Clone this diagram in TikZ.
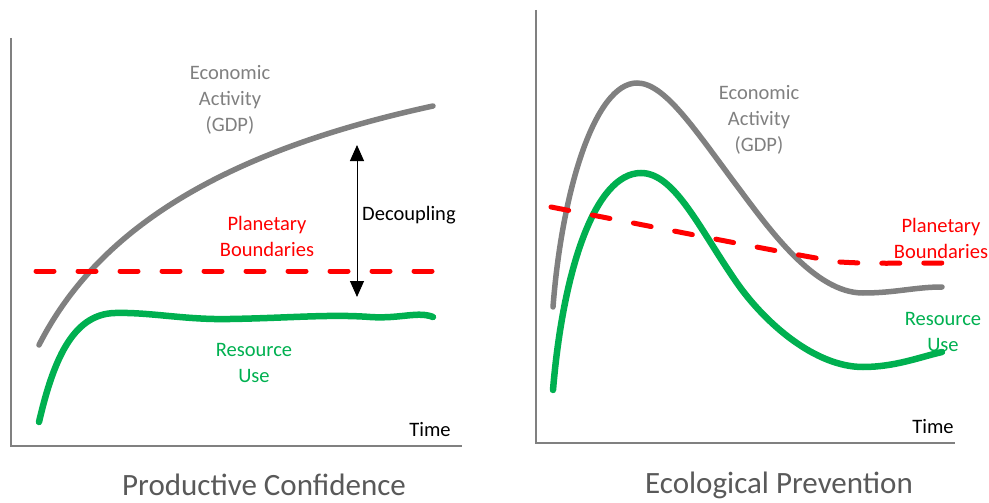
\documentclass[tikz,border=0pt]{standalone}
\usepackage{fontspec}
\setmainfont{Carlito}
\usepackage{xcolor}
\usetikzlibrary{arrows.meta}
\definecolor{gdpgray}{HTML}{808080}
\definecolor{resgreen}{HTML}{00B050}
\definecolor{titlegray}{HTML}{595959}

\begin{document}
\begin{tikzpicture}[x=1pt, y=-1pt,
  lbl/.style={align=center, inner sep=0pt, font=\fontsize{20.5}{26}\selectfont},
  ttl/.style={inner sep=0pt, text=titlegray, font=\fontsize{31}{36}\selectfont},
  axis/.style={draw=gdpgray, line width=2pt},
  gdp/.style={draw=gdpgray, line width=5.5pt, line cap=round},
  res/.style={draw=resgreen, line width=6.5pt, line cap=round},
  bound/.style={draw=red, line width=5pt, line cap=round, dash pattern=on 18pt off 24pt}]
\useasboundingbox (0,0) rectangle (989,503);

\draw[axis] (11,38) -- (11,446) -- (462,446);
\draw[axis] (536,10) -- (536,443) -- (955,443);

\draw[gdp] (39,345) .. controls (100,225) and (230,150) .. (433,106);
\draw[res] (39,422) .. controls (53,362) and (72,314) .. (115,313)
  .. controls (150,312) and (185,320) .. (230,319)
  .. controls (290,318) and (330,314) .. (370,317)
  .. controls (400,319) and (418,311) .. (433,317);
\draw[bound] (36,271) -- (436,271);

\coordinate (dtop) at (357,145);
\coordinate (dbot) at (357,297);
\draw[{Triangle[width=14pt,length=16pt]}-{Triangle[width=14pt,length=16pt]}, line width=1pt] (dtop) -- (dbot);

\node[lbl, text=gdpgray] (econL) at (230,100) {Economic\\Activity\\(GDP)};
\node[lbl, text=red] (planL) at (267,236) {Planetary\\Boundaries};
\node[lbl, text=resgreen] (resL) at (254,363) {Resource\\Use};
\node[lbl, anchor=west] (dec) at (362,215) {Decoupling};
\node[lbl] (timeL) at (430,430) {Time};
\node[ttl] (prod) at (264,485) {Productive Confidence};

\draw[gdp] (553,307) .. controls (562,190) and (595,83) .. (637,83)
  .. controls (665,83) and (695,130) .. (740,190)
  .. controls (770,230) and (815,293) .. (863,293)
  .. controls (895,293) and (915,287) .. (942,287);
\draw[res] (553,390) .. controls (563,270) and (595,173) .. (641,173)
  .. controls (675,173) and (700,230) .. (737,283)
  .. controls (765,323) and (815,367) .. (863,367)
  .. controls (895,367) and (920,357) .. (942,352);
\draw[bound] (551,207) .. controls (700,236) and (800,256) .. (840,262) .. controls (870,264) and (900,263) .. (942,263);

\node[lbl, text=gdpgray] (econR) at (759,120) {Economic\\Activity\\(GDP)};
\node[lbl, text=red] (planR) at (941,238) {Planetary\\Boundaries};
\node[lbl, text=resgreen] (resR) at (943,332) {Resource\\Use};
\node[lbl] (timeR) at (933,427) {Time};
\node[ttl] (eco) at (779,485) {Ecological Prevention};
\end{tikzpicture}
\end{document}
